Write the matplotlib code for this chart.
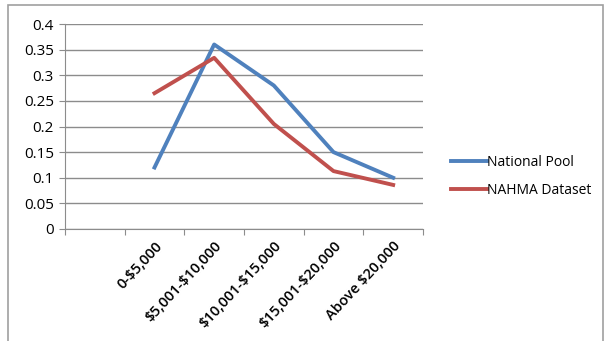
import numpy as np
import matplotlib.pyplot as plt
from matplotlib.patches import Rectangle

categories = ["0-$5,000", "$5,001-$10,000", "$10,001-$15,000", "$15,001-$20,000", "Above $20,000"]
national_pool = [0.12, 0.36, 0.28, 0.15, 0.10]
nahma_dataset = [0.265, 0.334, 0.205, 0.113, 0.086]

plt.rcParams['font.family'] = ['Open Sans', 'DejaVu Sans']

fig = plt.figure(figsize=(6.13, 3.41), dpi=100)
ax = fig.add_axes([65 / 613, 1 - 229 / 341, 358 / 613, 205 / 341])

# first category slot is empty in the original
x = np.arange(1, len(categories) + 1)
ax.plot(x, national_pool, color="#4F81BD", lw=2.8, label="National Pool")
ax.plot(x, nahma_dataset, color="#C0504D", lw=2.8, label="NAHMA Dataset")

ax.set_xlim(-0.5, len(categories) + 0.5)
ax.set_ylim(0, 0.4)
ax.set_yticks(np.arange(0, 0.401, 0.05))
ax.set_yticklabels(["0", "0.05", "0.1", "0.15", "0.2", "0.25", "0.3", "0.35", "0.4"])
ax.yaxis.grid(True, color="#8c8c8c", lw=1)
ax.set_axisbelow(True)

ax.set_xticks(np.arange(-0.5, len(categories) + 0.6, 1))
ax.set_xticklabels([])
ax.set_xticks(x, minor=True)
labels = ax.set_xticklabels(categories, minor=True, rotation=47, ha="right",
                            rotation_mode="anchor", fontsize=10.5, fontweight="semibold")
for t in labels:
    t.set_parse_math(False)
ax.tick_params(axis="x", which="minor", length=0, pad=7)
ax.tick_params(axis="x", which="major", length=4, color="#8c8c8c", direction="out")
ax.tick_params(axis="y", length=4, color="#8c8c8c", labelsize=11, pad=4)

for s in ["top", "right"]:
    ax.spines[s].set_visible(False)
for s in ["left", "bottom"]:
    ax.spines[s].set_color("#8c8c8c")

fig.legend(loc="upper left", bbox_to_anchor=(438 / 613, 1 - 142 / 341), frameon=False,
           fontsize=10, handlelength=2.6, handletextpad=0.0, labelspacing=0.95)

fig.patches.append(Rectangle((8 / 613, -0.02), 595 / 613, 1 - 5 / 341 + 0.02,
                             transform=fig.transFigure, fill=False, ec="#a0a0a0", lw=1.2))

fig.savefig("out.png", dpi=100)
